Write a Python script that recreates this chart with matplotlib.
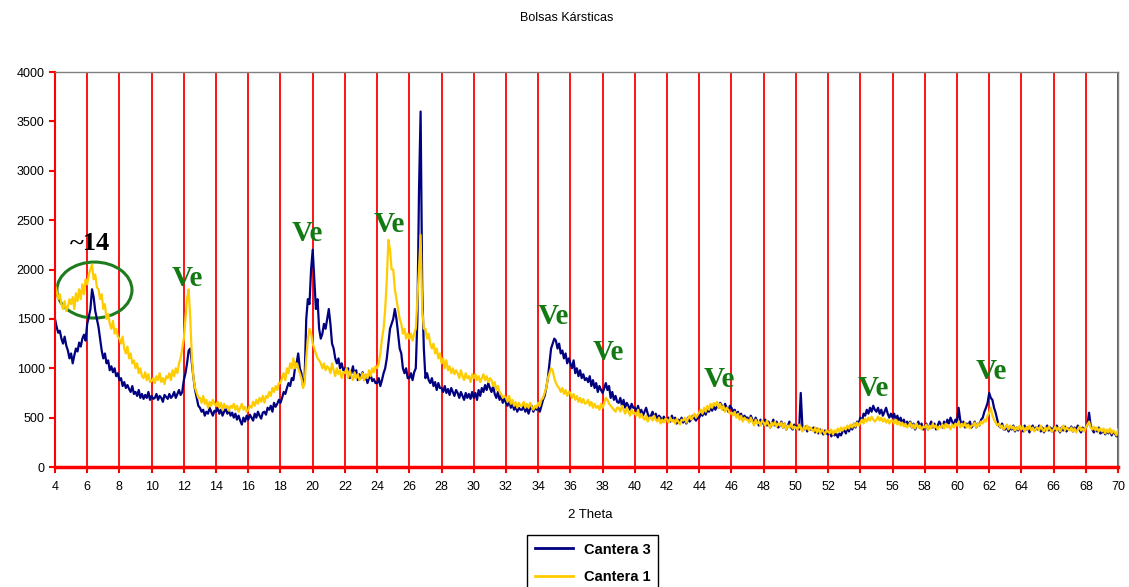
import numpy as np
import matplotlib
matplotlib.use("Agg")
import matplotlib.pyplot as plt
from matplotlib.patches import Ellipse

# difractograma, paso de 0.1 grados entre 4 y 70
two_theta = np.round(np.arange(661) * 0.1 + 4, 1)

cantera3 = [
    1500, 1420, 1360, 1380, 1300, 1250, 1320, 1230, 1180, 1100,
    1150, 1050, 1130, 1200, 1170, 1260, 1220, 1300, 1340, 1280,
    1450, 1520, 1600, 1800, 1720, 1580, 1500, 1420, 1300, 1180,
    1100, 1150, 1050, 1080, 980, 1020, 960, 1000, 920, 950,
    880, 900, 820, 860, 800, 830, 790, 760, 820, 740,
    760, 720, 780, 700, 740, 690, 730, 700, 760, 680,
    720, 690, 700, 740, 680, 720, 700, 660, 730, 710,
    690, 740, 700, 720, 760, 700, 740, 780, 730, 760,
    880, 950, 1050, 1180, 1200, 1050, 900, 780, 700, 620,
    600, 560, 580, 520, 560, 540, 600, 560, 520, 570,
    560, 600, 540, 580, 520, 560, 590, 540, 570, 520,
    550, 500, 540, 480, 520, 470, 430, 500, 460, 520,
    480, 530, 500, 470, 540, 500, 560, 520, 490, 550,
    560, 530, 600, 580, 620, 560, 650, 610, 640, 680,
    650, 700, 760, 740, 800, 850, 820, 900, 880, 1000,
    1050, 1150, 1000, 950, 820, 900, 1500, 1700, 1650, 2000,
    2200, 1900, 1600, 1700, 1400, 1300, 1350, 1450, 1400, 1500,
    1600, 1450, 1250, 1200, 1100, 1050, 1100, 1000, 1050, 980,
    1000, 960, 1000, 900, 950, 1020, 920, 980, 880, 940,
    900, 960, 880, 920, 850, 900, 930, 870, 890, 850,
    850, 900, 820, 880, 950, 1000, 1100, 1250, 1400, 1450,
    1500, 1600, 1500, 1350, 1200, 1150, 1000, 950, 1000, 900,
    900, 950, 880, 960, 1000, 1500, 2800, 3600, 1800, 1200,
    900, 950, 880, 850, 900, 820, 860, 780, 850, 800,
    800, 760, 820, 750, 790, 730, 800, 760, 720, 780,
    750, 700, 760, 720, 680, 750, 700, 740, 690, 760,
    700, 750, 680, 780, 720, 800, 760, 830, 780, 850,
    800, 760, 820, 740, 700, 760, 680, 720, 650, 700,
    650, 620, 680, 600, 640, 580, 620, 560, 600, 580,
    580, 620, 560, 600, 540, 590, 620, 560, 600, 580,
    600, 560, 620, 680, 720, 800, 900, 1050, 1200, 1250,
    1300, 1280, 1200, 1250, 1150, 1180, 1100, 1150, 1050, 1100,
    1050, 1000, 1080, 950, 1000, 920, 980, 900, 940, 880,
    900, 860, 920, 820, 880, 800, 850, 760, 820, 780,
    750, 800, 850, 780, 820, 700, 760, 680, 720, 660,
    650, 700, 620, 680, 600, 650, 620, 580, 640, 600,
    600, 560, 620, 540, 580, 520, 560, 600, 540, 500,
    520, 560, 500, 540, 480, 520, 500, 460, 510, 480,
    480, 500, 460, 520, 470, 500, 440, 480, 460, 500,
    450, 480, 440, 500, 460, 480, 520, 490, 470, 500,
    500, 540, 520, 560, 530, 580, 560, 600, 570, 620,
    580, 620, 600, 650, 620, 580, 640, 600, 560, 620,
    600, 560, 580, 520, 560, 500, 540, 480, 520, 500,
    500, 460, 520, 480, 440, 500, 460, 420, 480, 440,
    450, 480, 420, 460, 400, 440, 480, 420, 460, 400,
    420, 460, 400, 440, 380, 420, 460, 400, 380, 430,
    400, 420, 380, 750, 420, 380, 410, 360, 400, 380,
    380, 400, 350, 390, 340, 380, 360, 330, 370, 340,
    330, 360, 310, 350, 320, 340, 300, 340, 320, 360,
    380, 340, 400, 360, 420, 380, 440, 400, 460, 440,
    500, 460, 540, 520, 580, 540, 600, 560, 620, 580,
    560, 600, 540, 580, 520, 560, 600, 540, 500, 540,
    500, 540, 480, 520, 460, 500, 440, 480, 420, 460,
    420, 460, 400, 440, 380, 420, 460, 400, 440, 380,
    400, 440, 380, 420, 460, 400, 440, 380, 420, 460,
    430, 400, 460, 420, 480, 440, 500, 460, 420, 480,
    450, 600, 480, 420, 460, 400, 440, 420, 460, 400,
    420, 460, 400, 440, 420, 480, 500, 560, 600, 650,
    750, 700, 680, 600, 550, 480, 420, 400, 440, 380,
    380, 420, 360, 400, 380, 420, 360, 400, 370, 410,
    400, 360, 420, 380, 400, 350, 390, 420, 370, 400,
    380, 420, 360, 400, 350, 390, 420, 370, 400, 360,
    400, 370, 420, 380, 350, 400, 370, 410, 360, 390,
    380, 410, 360, 400, 370, 420, 380, 350, 400, 370,
    400, 430, 550, 420, 380, 350, 390, 360, 400, 340,
    350, 380, 330, 370, 340, 380, 320, 360, 340, 310,
    330,
]

cantera1 = [
    1850, 1780, 1700, 1750, 1650, 1600, 1680, 1580, 1620, 1700,
    1650, 1720, 1600, 1760, 1680, 1800, 1700, 1850, 1750, 1900,
    1850, 1950, 2000, 2050, 1900, 1950, 1820, 1800, 1700, 1750,
    1600, 1650, 1500, 1550, 1450, 1400, 1480, 1350, 1400, 1320,
    1300, 1250, 1320, 1200, 1150, 1220, 1100, 1150, 1050, 1080,
    1000, 1050, 950, 1000, 920, 900, 960, 880, 940, 860,
    870, 900, 850, 920, 880, 950, 860, 900, 840, 920,
    900, 950, 880, 980, 920, 1000, 950, 1050, 1100, 1200,
    1300, 1500, 1700, 1800, 1500, 1100, 900, 800, 750, 700,
    700, 650, 720, 640, 680, 600, 660, 620, 680, 640,
    620, 660, 600, 650, 580, 640, 600, 620, 570, 620,
    600, 640, 580, 620, 560, 600, 640, 580, 610, 560,
    580, 620, 600, 660, 620, 680, 640, 700, 660, 720,
    650, 720, 700, 760, 720, 800, 760, 820, 780, 850,
    850, 900, 950, 880, 1000, 950, 1050, 1000, 1100, 1000,
    1050, 1000, 950, 900, 800, 850, 1100, 1300, 1400, 1350,
    1250, 1200, 1150, 1100, 1080, 1050, 1000, 1050, 980, 1020,
    1000, 950, 1050, 980, 920, 1000, 940, 980, 900, 960,
    950, 1000, 900, 980, 920, 880, 960, 900, 940, 880,
    900, 950, 880, 940, 900, 980, 920, 1000, 960, 1020,
    1000, 1050, 1150, 1300, 1400, 1600, 1900, 2300, 2200, 2000,
    2000, 1800, 1700, 1600, 1500, 1450, 1350, 1400, 1300, 1350,
    1300, 1350, 1280, 1350, 1400, 1700, 2000, 2350, 1600, 1400,
    1400, 1300, 1350, 1250, 1200, 1250, 1150, 1200, 1100, 1150,
    1050, 1100, 1000, 1080, 980, 1020, 950, 1000, 940, 980,
    950, 900, 980, 920, 880, 950, 900, 920, 860, 940,
    900, 940, 880, 920, 860, 900, 940, 880, 920, 860,
    900, 880, 820, 860, 780, 820, 760, 740, 700, 720,
    700, 660, 720, 640, 680, 620, 660, 600, 650, 620,
    620, 660, 600, 640, 600, 650, 610, 580, 620, 600,
    650, 620, 680, 700, 750, 800, 900, 950, 1000, 980,
    900, 850, 820, 800, 760, 800, 740, 780, 720, 760,
    750, 700, 740, 680, 720, 660, 700, 650, 690, 640,
    650, 680, 620, 660, 600, 640, 600, 620, 580, 640,
    600, 650, 700, 680, 640, 620, 600, 580, 560, 600,
    600, 560, 620, 580, 540, 600, 560, 520, 580, 540,
    550, 520, 580, 500, 540, 500, 480, 520, 460, 500,
    500, 470, 520, 480, 460, 500, 440, 480, 450, 490,
    480, 450, 500, 460, 480, 440, 490, 460, 430, 480,
    470, 500, 450, 490, 520, 480, 510, 540, 500, 530,
    550, 580, 540, 600, 560, 620, 580, 640, 600, 650,
    620, 660, 600, 640, 580, 620, 560, 600, 580, 540,
    550, 520, 560, 500, 540, 480, 520, 460, 500, 480,
    480, 450, 500, 460, 420, 480, 440, 460, 420, 470,
    450, 420, 470, 430, 400, 450, 420, 460, 410, 440,
    420, 450, 400, 440, 380, 420, 400, 440, 390, 410,
    400, 380, 430, 390, 360, 410, 380, 420, 370, 400,
    380, 360, 400, 350, 390, 340, 380, 360, 330, 370,
    360, 340, 380, 330, 370, 350, 390, 360, 400, 370,
    400, 380, 420, 390, 430, 400, 440, 410, 450, 420,
    450, 480, 440, 490, 460, 500, 470, 510, 480, 460,
    480, 510, 470, 500, 460, 490, 450, 480, 440, 470,
    470, 440, 480, 430, 460, 420, 450, 410, 440, 400,
    420, 450, 400, 430, 390, 440, 400, 420, 380, 410,
    400, 430, 380, 420, 390, 440, 400, 420, 380, 410,
    400, 430, 390, 440, 400, 420, 380, 430, 400, 440,
    420, 460, 400, 440, 410, 450, 400, 430, 390, 420,
    420, 450, 400, 440, 420, 460, 440, 480, 460, 520,
    550, 600, 520, 480, 450, 420, 440, 400, 420, 380,
    400, 430, 380, 420, 390, 410, 370, 400, 380, 420,
    380, 410, 360, 400, 380, 420, 370, 400, 360, 390,
    400, 370, 420, 380, 360, 400, 370, 410, 380, 360,
    380, 410, 370, 400, 360, 390, 420, 370, 400, 380,
    370, 400, 360, 390, 350, 380, 410, 370, 390, 360,
    400, 430, 460, 400, 380, 410, 370, 400, 360, 390,
    360, 390, 340, 380, 350, 390, 340, 370, 350, 320,
    380,
]

x_ticks = list(range(4, 71, 2))
y_ticks = list(range(0, 4001, 500))

# picos marcados: vermiculita "Ve" y la reflexion de ~14 A
ve_x = [12.2, 19.65, 24.74, 34.92, 38.33, 45.23, 54.79, 62.11]
ve_y = [1914, 2360, 2451, 1529, 1164, 891, 800, 972]

plt.rcParams['font.family'] = ['Liberation Sans', 'DejaVu Sans']

fig = plt.figure(figsize=(11.29, 5.87), dpi=100)
ax = fig.add_axes([0.0487, 0.2044, 0.9416, 0.6729])

ax.plot(two_theta, cantera3, color='#000080', lw=1.6, label='Cantera 3')
ax.plot(two_theta, cantera1, color='#FFCC00', lw=1.6, label='Cantera 1')

ax.set_xlim(4, 70)
ax.set_ylim(0, 4000)
ax.set_xticks(x_ticks)
ax.set_yticks(y_ticks)
ax.tick_params(axis='both', colors='red', labelcolor='black', labelsize=9,
               length=4, width=1.5, direction='out')
ax.tick_params(axis='x', pad=6)

for xv in x_ticks:
    ax.axvline(xv, color='red', lw=1.3, zorder=0)

ax.spines['left'].set_color('red')
ax.spines['left'].set_linewidth(1.5)
ax.spines['bottom'].set_color('red')
ax.spines['bottom'].set_linewidth(2.5)
ax.spines['top'].set_color('#808080')
ax.spines['right'].set_color('#808080')
ax.spines['top'].set_linewidth(1.0)
ax.spines['right'].set_linewidth(1.0)

fig.text(0.502, 0.969, 'Bolsas Kársticas', ha='center', va='center', fontsize=9)
fig.text(0.523, 0.123, '2 Theta', ha='center', va='center', fontsize=9.5)

for xv, yv in zip(ve_x, ve_y):
    ax.text(xv, yv, 'Ve', color='#137A13', fontsize=21, fontweight='bold',
            family='Liberation Serif', ha='center', va='center')

ax.text(6.2, 2268, '~14', color='black', fontsize=19, fontweight='bold',
        family='Liberation Serif', ha='center', va='center')
ax.add_patch(Ellipse((6.45, 1792), 4.66, 567, fill=False,
                     edgecolor='#1E7B1E', lw=2.2))

leg = fig.legend(loc='upper left', bbox_to_anchor=(0.4606, 0.1005),
                 fancybox=False, edgecolor='black', framealpha=1,
                 prop={'weight': 'bold', 'size': 10.5}, handlelength=2.6,
                 borderpad=0.5, labelspacing=0.95)
leg.get_frame().set_linewidth(1.0)
for line in leg.get_lines():
    line.set_linewidth(2.0)

fig.savefig('out.png', dpi=100)
